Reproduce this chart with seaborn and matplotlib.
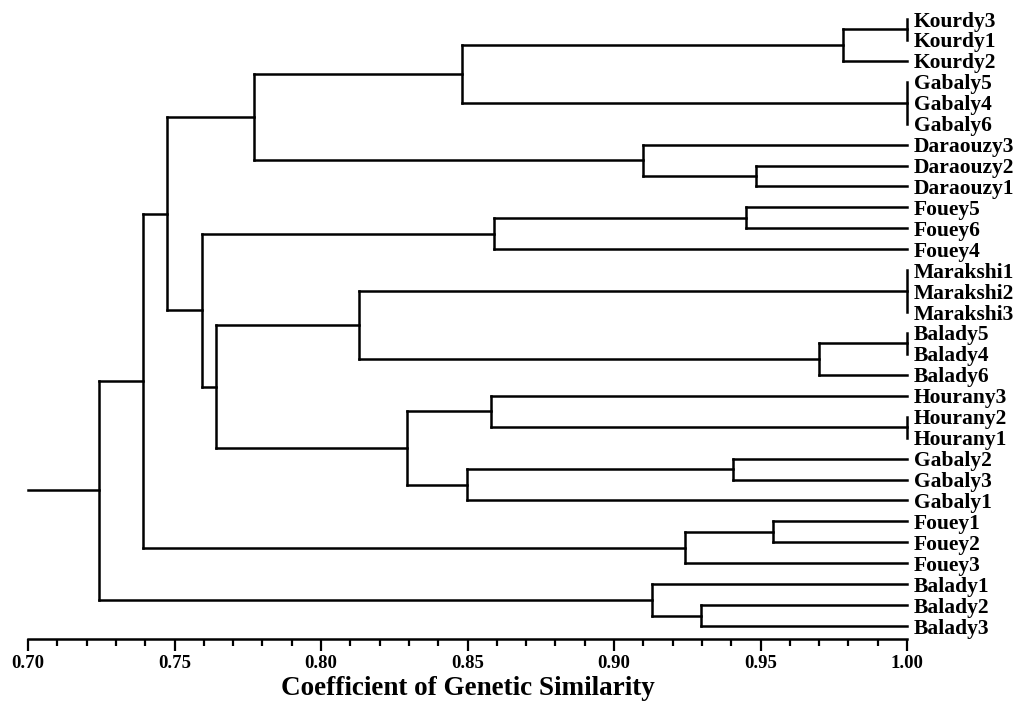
import matplotlib
matplotlib.use("Agg")
import matplotlib.pyplot as plt
import matplotlib.ticker as mticker
import seaborn as sns
import pandas as pd

# ---- data ----
leaves = ["Kourdy3", "Kourdy1", "Kourdy2", "Gabaly5", "Gabaly4", "Gabaly6",
          "Daraouzy3", "Daraouzy2", "Daraouzy1", "Fouey5", "Fouey6", "Fouey4",
          "Marakshi1", "Marakshi2", "Marakshi3", "Balady5", "Balady4", "Balady6",
          "Hourany3", "Hourany2", "Hourany1", "Gabaly2", "Gabaly3", "Gabaly1",
          "Fouey1", "Fouey2", "Fouey3", "Balady1", "Balady2", "Balady3"]

merge_names = ["N1", "N2", "N3", "N4", "N5", "N6", "N7", "N8", "N9", "N10",
               "N11", "N12", "N13", "N14", "N15", "N16", "N17", "N18", "N19",
               "N20", "N21", "N22", "N23", "N24", "N25", "N26", "N27"]
merge_children = [
    ["Kourdy3", "Kourdy1"],
    ["N1", "Kourdy2"],
    ["Gabaly5", "Gabaly4", "Gabaly6"],
    ["N2", "N3"],
    ["Daraouzy2", "Daraouzy1"],
    ["Daraouzy3", "N5"],
    ["N4", "N6"],
    ["Fouey5", "Fouey6"],
    ["N8", "Fouey4"],
    ["Marakshi1", "Marakshi2", "Marakshi3"],
    ["Balady5", "Balady4"],
    ["N11", "Balady6"],
    ["N10", "N12"],
    ["Hourany2", "Hourany1"],
    ["Hourany3", "N14"],
    ["Gabaly2", "Gabaly3"],
    ["N16", "Gabaly1"],
    ["N15", "N17"],
    ["N13", "N18"],
    ["N9", "N19"],
    ["N7", "N20"],
    ["Fouey1", "Fouey2"],
    ["N22", "Fouey3"],
    ["N21", "N23"],
    ["Balady2", "Balady3"],
    ["Balady1", "N25"],
    ["N24", "N26"],
]
merge_similarity = [1.000, 0.978, 1.000, 0.848, 0.9485, 0.910, 0.777, 0.945,
                    0.859, 1.000, 1.000, 0.970, 0.813, 1.000, 0.858, 0.9406,
                    0.8498, 0.8294, 0.7642, 0.7594, 0.7474, 0.9543, 0.9242,
                    0.7392, 0.9297, 0.913, 0.7242]
axis_min, axis_max = 0.70, 1.00
major_ticks = [0.70, 0.75, 0.80, 0.85, 0.90, 0.95, 1.00]
xlabel = "Coefficient of Genetic Similarity"

# ---- build segments ----
ypos = {name: i for i, name in enumerate(leaves)}
xpos = {name: 1.0 for name in leaves}
rows = []
seg = 0
for name, kids, sim in zip(merge_names, merge_children, merge_similarity):
    ys = [ypos[k] for k in kids]
    y0, y1 = min(ys), max(ys)
    rows += [(seg, sim, y0), (seg, sim, y1)]
    seg += 1
    for k in kids:
        rows += [(seg, xpos[k], ypos[k]), (seg, sim, ypos[k])]
        seg += 1
    ypos[name] = (y0 + y1) / 2
    xpos[name] = sim
root = merge_names[-1]
rows += [(seg, axis_min, ypos[root]), (seg, xpos[root], ypos[root])]
df = pd.DataFrame(rows, columns=["seg", "x", "y"])

# ---- plot ----
sns.set_style("white")
plt.rcParams["font.family"] = ["Liberation Serif", "DejaVu Serif"]
plt.rcParams["font.weight"] = "bold"
for key in ["text.color", "axes.labelcolor", "xtick.color", "ytick.color"]:
    plt.rcParams[key] = "black"

fig = plt.figure(figsize=(10.33, 7.07), dpi=100)
ax = fig.add_axes([28 / 1033, 1 - 639 / 707, (907 - 28) / 1033, 639 / 707])

sns.lineplot(data=df, x="x", y="y", units="seg", estimator=None, sort=False,
             color="black", linewidth=1.8, ax=ax, legend=False,
             solid_capstyle="projecting", clip_on=False)

n = len(leaves)
ax.set_xlim(axis_min, axis_max)
ax.set_ylim(n - 1 + 0.62, -0.908)

for s in ["top", "left", "right"]:
    ax.spines[s].set_visible(False)
ax.spines["bottom"].set_linewidth(1.8)
ax.spines["bottom"].set_color("black")

ax.xaxis.set_major_locator(mticker.FixedLocator(major_ticks))
ax.xaxis.set_major_formatter(mticker.FormatStrFormatter("%.2f"))
ax.xaxis.set_minor_locator(mticker.MultipleLocator(0.01))
ax.tick_params(axis="x", which="major", direction="out", length=8.5, width=1.6,
               color="black", labelcolor="black", labelsize=13.5, pad=3,
               bottom=True)
ax.tick_params(axis="x", which="minor", direction="out", length=5, width=1.6,
               color="black", bottom=True)
for t in ax.get_xticklabels():
    t.set_fontweight("bold")

ax.yaxis.tick_right()
ax.set_yticks(range(n))
ax.set_yticklabels(leaves, fontsize=15.5, fontweight="bold", color="black")
ax.tick_params(axis="y", which="both", length=0, pad=5, right=True, left=False,
               labelcolor="black")

ax.set_xlabel(xlabel, fontsize=19.5, fontweight="bold", labelpad=3,
              color="black")
ax.set_ylabel("")
ax.grid(False)

fig.savefig("out.png", dpi=100)
